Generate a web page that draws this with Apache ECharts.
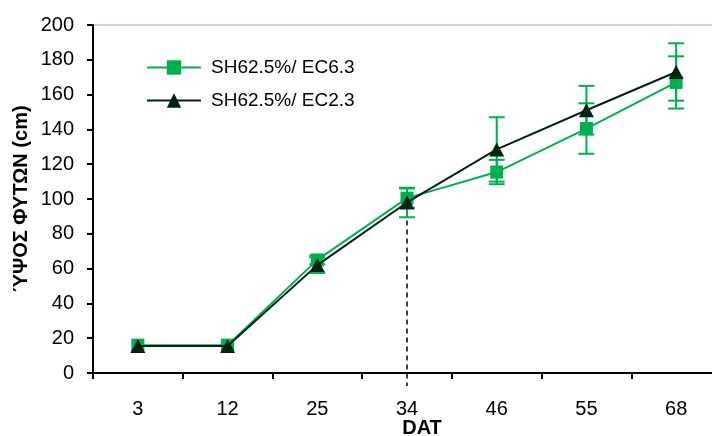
<!DOCTYPE html>
<html>
<head>
<meta charset="utf-8">
<script src="https://cdn.jsdelivr.net/npm/echarts@6/dist/echarts.min.js"></script>
<style>
  html, body { margin: 0; padding: 0; background: #fff; }
  #chart { width: 712px; height: 436px; }
</style>
</head>
<body>
<div id="chart"></div>
<script>
// ---- data ----
const days = ['3', '12', '25', '34', '46', '55', '68'];
const ec63 = [16, 16, 65, 100.5, 115.5, 140.5, 167];
const ec63Err = [0, 0, 2.5, 5.5, 7, 14.5, 15];
const ec23 = [15.5, 15.5, 62, 98, 128.5, 151, 173];
const ec23Err = [0, 0, 4.5, 8.5, 18.5, 14, 16.5];
const seriesNames = ['SH62.5%/ EC6.3', 'SH62.5%/ EC2.3'];
const yMin = 0, yMax = 200, yStep = 20;
const markerDay = '34';
const markerTop = 98;
const markerBottom = -7.5;

const GREEN = '#00B050';
const DARK = '#00240F';
const FONT = '"Liberation Sans", Arial, sans-serif';

function errData(vals, errs) {
  return vals.map((v, i) => [i, v + errs[i], v - errs[i], errs[i]]);
}

function errRender(params, api) {
  if (!api.value(3)) return null;
  const idx = api.value(0);
  const top = api.coord([idx, api.value(1)]);
  const bot = api.coord([idx, api.value(2)]);
  const hw = 8;
  const st = { stroke: GREEN, lineWidth: 2 };
  return {
    type: 'group',
    children: [
      { type: 'line', shape: { x1: top[0], y1: top[1], x2: bot[0], y2: bot[1] }, style: st },
      { type: 'line', shape: { x1: top[0] - hw, y1: top[1], x2: top[0] + hw, y2: top[1] }, style: st },
      { type: 'line', shape: { x1: bot[0] - hw, y1: bot[1], x2: bot[0] + hw, y2: bot[1] }, style: st }
    ]
  };
}

const chart = echarts.init(document.getElementById('chart'), null, { renderer: 'canvas' });
chart.setOption({
  backgroundColor: '#ffffff',
  animation: false,
  textStyle: { fontFamily: FONT },
  legend: {
    data: seriesNames,
    orient: 'vertical',
    left: 141,
    top: 53,
    itemWidth: 54,
    itemHeight: 18,
    itemGap: 14,
    textStyle: { fontSize: 19, color: '#000', fontFamily: FONT, padding: [0, 0, 0, 5] }
  },
  grid: [
    { left: 93, right: -9, top: 25, bottom: 63, show: true, borderColor: '#B4C7E7', borderWidth: 1.5, backgroundColor: 'transparent', containLabel: false, outerBoundsMode: 'none' },
    { left: 93, right: -9, top: 25, bottom: 50, show: false, containLabel: false, outerBoundsMode: 'none' }
  ],
  xAxis: [
    {
      type: 'category', gridIndex: 0, data: days, boundaryGap: true,
      name: 'DAT', nameLocation: 'middle', nameGap: 45, nameMoveOverlap: false,
      nameTextStyle: { fontSize: 20, fontWeight: 'bold', color: '#000', fontFamily: FONT, padding: [0, 0, 0, 30] },
      axisLine: { lineStyle: { color: '#000', width: 2 } },
      axisTick: { show: true, length: 6, lineStyle: { color: '#000', width: 2 } },
      axisLabel: { fontSize: 20, color: '#000', margin: 26, fontFamily: FONT },
      splitLine: { show: false }
    },
    { type: 'category', gridIndex: 1, data: days, boundaryGap: true, show: false }
  ],
  yAxis: [
    {
      type: 'value', gridIndex: 0, min: yMin, max: yMax, interval: yStep,
      name: 'ΎΨΟΣ ΦΥΤΩΝ (cm)', nameLocation: 'middle', nameGap: 62, nameRotate: 90, nameMoveOverlap: false,
      nameTextStyle: { fontSize: 20, fontWeight: 'bold', color: '#000', fontFamily: FONT },
      axisLine: { show: true, lineStyle: { color: '#000', width: 2 } },
      axisTick: { show: true, length: 6, lineStyle: { color: '#000', width: 2 } },
      axisLabel: { fontSize: 20, color: '#000', margin: 19, fontFamily: FONT },
      splitLine: { show: false }
    },
    { type: 'value', gridIndex: 1, min: markerBottom, max: yMax, show: false }
  ],
  series: [
    {
      type: 'line', xAxisIndex: 1, yAxisIndex: 1, silent: true, symbol: 'none', z: 1,
      data: [[markerDay, markerTop], [markerDay, markerBottom]],
      lineStyle: { color: '#000', width: 1.5, type: [5, 4] }
    },
    {
      type: 'custom', name: 'err63', z: 2, renderItem: errRender,
      data: errData(ec63, ec63Err), encode: { x: 0, y: [1, 2] }
    },
    {
      type: 'custom', name: 'err23', z: 2, renderItem: errRender,
      data: errData(ec23, ec23Err), encode: { x: 0, y: [1, 2] }
    },
    {
      type: 'line', name: seriesNames[0], data: ec63, z: 3,
      symbol: 'rect', symbolSize: 13,
      itemStyle: { color: GREEN },
      lineStyle: { color: GREEN, width: 2 }
    },
    {
      type: 'line', name: seriesNames[1], data: ec23, z: 4,
      symbol: 'triangle', symbolSize: [15, 14],
      itemStyle: { color: DARK },
      lineStyle: { color: DARK, width: 2 }
    }
  ]
});
</script>
</body>
</html>
